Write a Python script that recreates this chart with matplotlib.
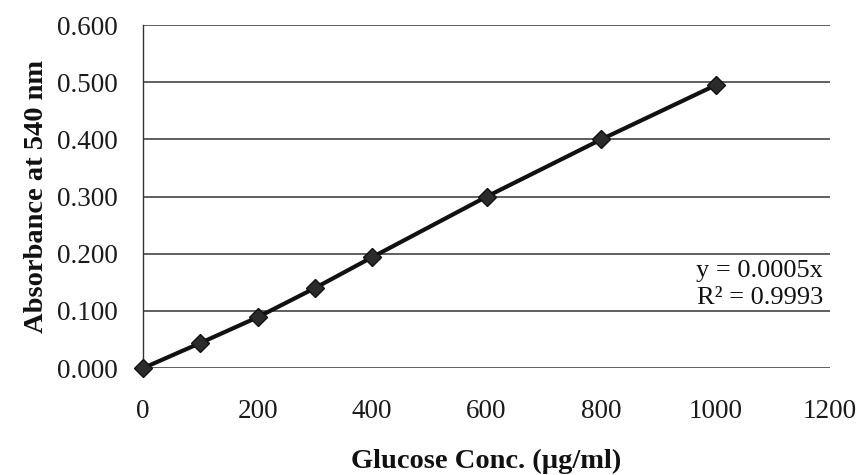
import matplotlib
matplotlib.use("Agg")
import matplotlib.pyplot as plt

conc = [0, 100, 200, 300, 400, 600, 800, 1000]
absorbance = [0.000, 0.044, 0.089, 0.140, 0.194, 0.300, 0.400, 0.495]
x_ticks = [0, 200, 400, 600, 800, 1000, 1200]
y_ticks = [0.0, 0.1, 0.2, 0.3, 0.4, 0.5, 0.6]
equation_text = "y = 0.0005x\nR² = 0.9993"

plt.rcParams['font.family'] = ['Liberation Serif', 'DejaVu Serif']

fig = plt.figure(figsize=(8.62, 4.75), dpi=100)
ax = fig.add_axes([0.166, 0.225, 0.797, 0.722])

ax.plot(conc, absorbance, color='#111111', linewidth=3, marker='D', markersize=9,
        markerfacecolor='#2b2b2b', markeredgecolor='#111111', zorder=3, clip_on=False)

ax.set_xlim(0, 1200)
ax.set_ylim(0, 0.6)
ax.set_xticks(x_ticks)
ax.set_yticks(y_ticks)
ax.set_yticklabels([f"{v:.3f}" for v in y_ticks])
ax.tick_params(axis='both', labelsize=19.5, length=0, colors='#1a1a1a')
ax.tick_params(axis='x', pad=22)
ax.tick_params(axis='y', pad=18)

ax.grid(axis='y', color='#444444', linewidth=1.2)
ax.set_axisbelow(True)
for s in ['top', 'right', 'bottom']:
    ax.spines[s].set_visible(False)
ax.spines['left'].set_color('#333333')
ax.spines['left'].set_linewidth(1.0)

ax.set_xlabel("Glucose Conc. (µg/ml)", fontsize=20.5, fontweight='bold', labelpad=18, color='#111111')
ax.set_ylabel("Absorbance at 540 nm", fontsize=20.5, fontweight='bold', labelpad=6, color='#111111')

ax.text(1188, 0.147, equation_text, fontsize=19, ha='right', va='center',
        linespacing=1.3, color='#111111')

fig.savefig("out.png", dpi=100)
